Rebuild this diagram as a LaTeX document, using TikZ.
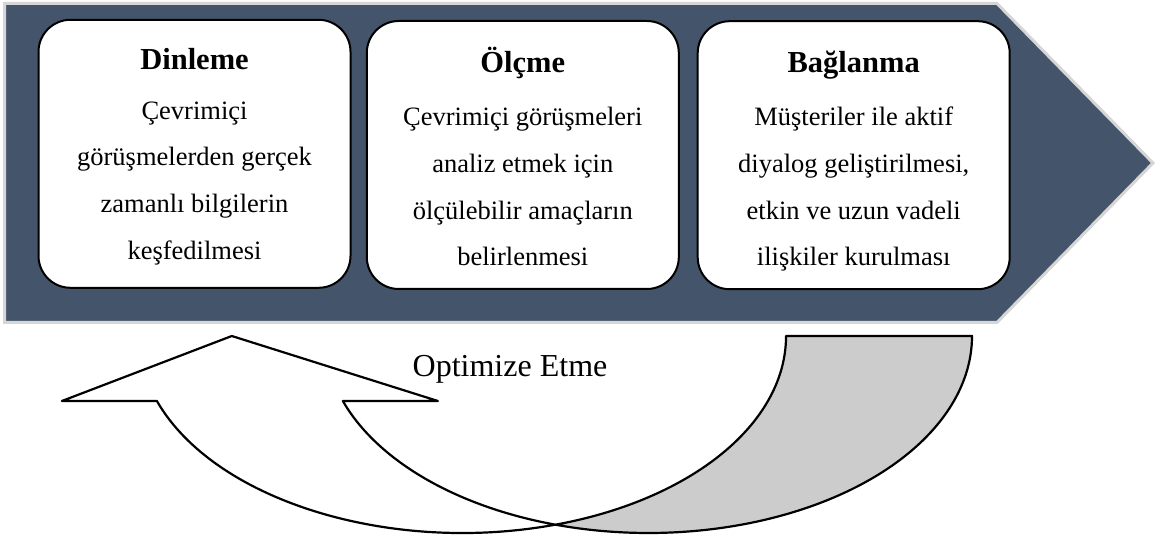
\documentclass[tikz,border=0pt]{standalone}
\usepackage{fontspec}
\setmainfont{Liberation Serif}
\definecolor{bandfill}{RGB}{68,84,106}
\definecolor{bandedge}{RGB}{214,214,214}
\definecolor{tailgray}{RGB}{204,204,204}
\begin{document}
\begin{tikzpicture}[x=1pt,y=1pt,
  stagebox/.style={draw=black, line width=2pt, fill=white, rounded corners=32pt,
    minimum width=312pt, minimum height=268pt, inner sep=0pt},
  stagetitle/.style={font=\fontsize{30.5}{36}\selectfont\bfseries, inner sep=0pt, anchor=base},
  stagetext/.style={font=\fontsize{26.5}{30}\selectfont, inner sep=0pt, anchor=base},
  looplabel/.style={font=\fontsize{32}{38}\selectfont, inner sep=0pt, anchor=base},
  ribbon/.style={draw=black, line width=2.2pt, line join=round},
]
\useasboundingbox (0,0) rectangle (1157,541);

% process band (chevron)
\draw[bandedge, line width=3pt, fill=bandfill]
  (4.5,537.5) -- (997,537.5) -- (1153,378) -- (997,218.5) -- (4.5,218.5) -- cycle;

% stage boxes
\node[stagebox] (s1) at (194.5,387.2) {};
\node[stagebox] (s2) at (522.8,386.0) {};
\node[stagebox] (s3) at (853.7,385.8) {};

% stage 1 text
\node[stagetitle] (s1t) at (194.5,471) {Dinleme};
\node[stagetext] (s1a) at (194.5,421.7) {Çevrimiçi};
\node[stagetext] (s1b) at (194.5,375.0) {görüşmelerden gerçek};
\node[stagetext] (s1c) at (194.5,328.3) {zamanlı bilgilerin};
\node[stagetext] (s1d) at (194.5,281.7) {keşfedilmesi};

% stage 2 text
\node[stagetitle] (s2t) at (522.8,468) {Ölçme};
\node[stagetext] (s2a) at (522.8,415.0) {Çevrimiçi görüşmeleri};
\node[stagetext] (s2b) at (522.8,368.3) {analiz etmek için};
\node[stagetext] (s2c) at (522.8,321.7) {ölçülebilir amaçların};
\node[stagetext] (s2d) at (522.8,275.0) {belirlenmesi};

% stage 3 text
\node[stagetitle] (s3t) at (853.7,468) {Bağlanma};
\node[stagetext] (s3a) at (853.7,415.0) {Müşteriler ile aktif};
\node[stagetext] (s3b) at (853.7,368.3) {diyalog geliştirilmesi,};
\node[stagetext] (s3c) at (853.7,321.7) {etkin ve uzun vadeli};
\node[stagetext] (s3d) at (853.7,275.0) {ilişkiler kurulması};

% curved return arrow: two equal half-ellipses shifted by the ribbon thickness
\def\rx{323.6}
\def\ry{197}
% back part of the ribbon (tail)
\draw[ribbon, fill=tailgray]
  (786,205) -- (972,205)
  arc[start angle=0, end angle=-106.7, x radius=\rx, y radius=\ry]
  arc[start angle=-73.3, end angle=0, x radius=\rx, y radius=\ry] -- cycle;
% front part of the ribbon with the arrow head
\draw[ribbon, fill=white]
  (231.8,205) -- (61.9,140) -- (156.9,140)
  arc[start angle=199.27, end angle=286.7, x radius=\rx, y radius=\ry]
  arc[start angle=253.3, end angle=199.27, x radius=\rx, y radius=\ry]
  -- (437.9,140) -- cycle;

\node[looplabel] (opt) at (510,164) {Optimize Etme};
\end{tikzpicture}
\end{document}
